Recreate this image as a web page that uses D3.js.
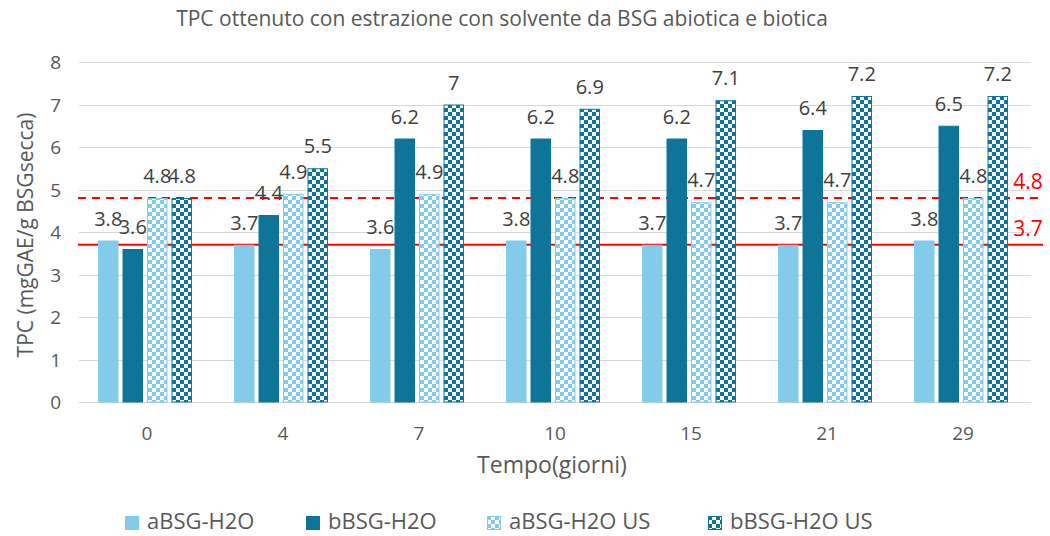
<!DOCTYPE html>
<html>
<head>
<meta charset="utf-8">
<script src="https://cdn.jsdelivr.net/npm/d3@7"></script>
<style>
  body { margin: 0; background: #fff; }
  text { font-family: "Open Sans", "Liberation Sans", Arial, sans-serif; }
</style>
</head>
<body>
<svg id="chart" width="1050" height="536"></svg>
<script>
var giorni = ["0", "4", "7", "10", "15", "21", "29"]
var serie = ["aBSG-H2O", "bBSG-H2O", "aBSG-H2O US", "bBSG-H2O US"]
var aBSG = [3.8, 3.7, 3.6, 3.8, 3.7, 3.7, 3.8]
var bBSG = [3.6, 4.4, 6.2, 6.2, 6.2, 6.4, 6.5]
var aBSG_US = [4.8, 4.9, 4.9, 4.8, 4.7, 4.7, 4.8]
var bBSG_US = [4.8, 5.5, 7, 6.9, 7.1, 7.2, 7.2]
var soglie = [3.7, 4.8]
var yTicks = [0, 1, 2, 3, 4, 5, 6, 7, 8]

var valori = [aBSG, bBSG, aBSG_US, bBSG_US]

var dimensions = {
    width: 1050,
    height: 536,
    margin: { top: 62, bottom: 134, left: 79, right: 19 }
}
var plotRight = dimensions.width - dimensions.margin.right

var light = "#83CBEB", dark = "#0E7499"
var fills = [light, dark, "url(#chkLight)", "url(#chkDark)"]
var strokes = [light, dark, light, dark]

var svg = d3.select("#chart")

// checker patterns
var defs = svg.append("defs")
function checker(id, col) {
    var p = defs.append("pattern")
        .attr("id", id)
        .attr("patternUnits", "userSpaceOnUse")
        .attr("width", 8).attr("height", 8)
    p.append("rect").attr("width", 8).attr("height", 8).attr("fill", "#fff")
    p.append("rect").attr("width", 4).attr("height", 4).attr("fill", col)
    p.append("rect").attr("x", 4).attr("y", 4).attr("width", 4).attr("height", 4).attr("fill", col)
}
checker("chkLight", light)
checker("chkDark", dark)

var xScale = d3.scaleBand()
    .domain(giorni)
    .range([dimensions.margin.left, plotRight])

var yScale = d3.scaleLinear()
    .domain([0, 8])
    .range([dimensions.height - dimensions.margin.bottom, dimensions.margin.top])

var barW = 20.5, gap = 4
var groupW = barW * 4 + gap * 3
var barX = (g, s) => xScale(g) + xScale.bandwidth() / 2 - 2 - groupW / 2 + s * (barW + gap)

// gridlines
svg.append("g")
    .selectAll("line")
    .data(yTicks)
    .enter()
    .append("line")
    .attr("x1", dimensions.margin.left)
    .attr("x2", plotRight)
    .attr("y1", d => Math.round(yScale(d)) + 0.5)
    .attr("y2", d => Math.round(yScale(d)) + 0.5)
    .attr("stroke", "#d9d9d9")
    .attr("stroke-width", 1)

// y tick labels
svg.append("g")
    .selectAll("text")
    .data(yTicks)
    .enter()
    .append("text")
    .attr("x", 61)
    .attr("y", d => yScale(d) + 7)
    .attr("text-anchor", "end")
    .attr("font-size", 19)
    .attr("fill", "#595959")
    .text(d => d)

// red threshold lines (behind the bars)
svg.append("g")
    .selectAll("line")
    .data(soglie)
    .enter()
    .append("line")
    .attr("x1", dimensions.margin.left - 1)
    .attr("x2", 1043)
    .attr("y1", d => yScale(d))
    .attr("y2", d => yScale(d))
    .attr("stroke", "#FF0000")
    .attr("stroke-width", 2)
    .attr("stroke-dasharray", (d, i) => i == 1 ? "8,6" : null)

svg.append("g")
    .selectAll("text")
    .data(soglie)
    .enter()
    .append("text")
    .attr("x", 1028)
    .attr("y", d => yScale(d) - 9)
    .attr("text-anchor", "middle")
    .attr("font-size", 21)
    .attr("fill", "#FF0000")
    .text(d => d)

// bars
valori.forEach(function(vals, s) {
    svg.append("g")
        .selectAll("rect")
        .data(vals)
        .enter()
        .append("rect")
        .attr("x", (d, i) => barX(giorni[i], s) + 0.5)
        .attr("y", d => yScale(d) + 0.5)
        .attr("width", barW - 1)
        .attr("height", d => yScale(0) - yScale(d) - 0.5)
        .attr("fill", fills[s])
        .attr("stroke", strokes[s])
        .attr("stroke-width", 1)

    svg.append("g")
        .selectAll("text")
        .data(vals)
        .enter()
        .append("text")
        .attr("x", (d, i) => barX(giorni[i], s) + barW / 2)
        .attr("y", d => yScale(d) - 15)
        .attr("text-anchor", "middle")
        .attr("font-size", 20)
        .attr("fill", "#404040")
        .text(d => d)
})

// x tick labels
svg.append("g")
    .selectAll("text")
    .data(giorni)
    .enter()
    .append("text")
    .attr("x", d => xScale(d) + xScale.bandwidth() / 2)
    .attr("y", 440)
    .attr("text-anchor", "middle")
    .attr("font-size", 19)
    .attr("fill", "#595959")
    .text(d => d)

// titles
svg.append("text")
    .attr("x", 502)
    .attr("y", 26)
    .attr("text-anchor", "middle")
    .attr("font-size", 21)
    .attr("fill", "#595959")
    .text("TPC ottenuto con estrazione con solvente da BSG abiotica e biotica")

svg.append("text")
    .attr("x", 552)
    .attr("y", 473)
    .attr("text-anchor", "middle")
    .attr("font-size", 23)
    .attr("fill", "#595959")
    .text("Tempo(giorni)")

svg.append("text")
    .attr("transform", "translate(33,235) rotate(-90)")
    .attr("text-anchor", "middle")
    .attr("font-size", 21)
    .attr("fill", "#595959")
    .text("TPC (mgGAE/g BSGsecca)")

// legend
var legX = [125, 306, 487, 708]
var leg = svg.append("g")
    .selectAll("g")
    .data(serie)
    .enter()
    .append("g")
    .attr("transform", (d, i) => `translate(${legX[i]}, 516)`)

leg.append("rect")
    .attr("x", 0.5).attr("y", 0.5)
    .attr("width", 13).attr("height", 13)
    .attr("fill", (d, i) => fills[i])
    .attr("stroke", (d, i) => strokes[i])

leg.append("text")
    .attr("x", 22)
    .attr("y", 13)
    .attr("font-size", 22)
    .attr("fill", "#595959")
    .text(d => d)
</script>
</body>
</html>
